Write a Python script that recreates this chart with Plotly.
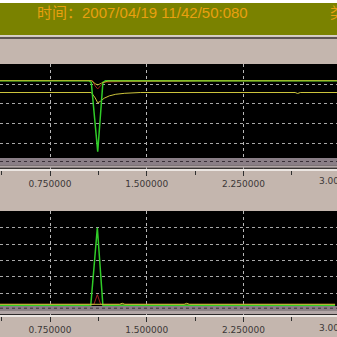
import plotly.graph_objects as go

# ---------------- data ----------------
X_RANGE = [0.3624, 2.9748]
MAJOR_DTICK = 0.75
MINOR_DTICK = 0.375
EXTRA_TICK_LABELS = [3.0]          # label partly visible at the right edge

HEADER_TEXT = "时间：2007/04/19 11/42/50:080"
HEADER_TEXT_RIGHT = "类型：单相接地"

# top panel
TOP_UPPER_X = [0.36, 1.07, 1.10, 1.12, 1.15, 1.20, 2.98]
TOP_UPPER_Y = [4.17, 4.17, 4.02, 3.95, 4.05, 4.15, 4.17]
TOP_RED_X = [0.36, 1.08, 1.10, 1.12, 1.14, 1.17, 1.30, 1.60, 1.80, 1.90, 2.98]
TOP_RED_Y = [4.17, 4.17, 3.90, 3.75, 3.90, 4.10, 4.12, 4.12, 4.14, 4.17, 4.17]
TOP_GREEN_X = [0.36, 1.05, 1.07, 1.12, 1.16, 1.18, 2.98]
TOP_GREEN_Y = [4.17, 4.17, 4.08, 0.57, 4.08, 4.17, 4.17]
TOP_LOWER_X = [0.36, 1.07, 1.10, 1.12, 1.14, 1.17, 1.21, 1.26, 1.33, 1.45, 2.65, 2.67, 2.69, 2.98]
TOP_LOWER_Y = [3.57, 3.57, 3.30, 3.05, 3.12, 3.28, 3.40, 3.48, 3.53, 3.57, 3.57, 3.52, 3.57, 3.57]

# bottom panel
BOT_YELLOW_X = [0.36, 1.29, 1.31, 1.33, 1.79, 1.81, 1.83, 2.96]
BOT_YELLOW_Y = [0.307, 0.307, 0.37, 0.307, 0.307, 0.37, 0.307, 0.307]
BOT_GREEN_X = [0.36, 1.05, 1.065, 1.117, 1.16, 1.18, 2.96]
BOT_GREEN_Y = [0.245, 0.245, 0.15, 5.0, 0.245, 0.245, 0.245]
BOT_RED_X = [0.36, 1.091, 1.117, 1.143, 2.96]
BOT_RED_Y = [0.307, 0.307, 0.90, 0.307, 0.307]

TOP_Y_RANGE = [-0.289, 5.013]
TOP_GRID = [1, 2, 3, 4]
BOT_Y_RANGE = [-0.368, 6.03]
BOT_GRID = [1, 2, 3, 4, 5]

# ---------------- styling ----------------
W = H = 337
BG = "#c4b6ae"
OLIVE = "#7a8200"
GOLD = "#e8a010"
YEL_UP = "#bcb62c"
YEL_LO = "#ccc43c"
GREEN = "#30cc28"
RED = "#a02020"
TICKFONT = dict(family="DejaVu Sans", size=9, color="#3c3838")


def py(px):
    return 1 - px / H


def px_x(px):
    return px / W


fig = go.Figure()

# top panel traces (order matters for overlap)
fig.add_trace(go.Scatter(x=TOP_LOWER_X, y=TOP_LOWER_Y, mode="lines",
                         line=dict(color=YEL_LO, width=1), xaxis="x", yaxis="y"))
fig.add_trace(go.Scatter(x=TOP_RED_X, y=TOP_RED_Y, mode="lines",
                         line=dict(color=RED, width=1), xaxis="x", yaxis="y"))
fig.add_trace(go.Scatter(x=TOP_GREEN_X, y=TOP_GREEN_Y, mode="lines",
                         line=dict(color=GREEN, width=1.5), xaxis="x", yaxis="y"))
fig.add_trace(go.Scatter(x=TOP_UPPER_X, y=TOP_UPPER_Y, mode="lines",
                         line=dict(color=YEL_UP, width=1), xaxis="x", yaxis="y"))

# bottom panel traces
fig.add_trace(go.Scatter(x=BOT_RED_X, y=BOT_RED_Y, mode="lines",
                         line=dict(color=RED, width=1), xaxis="x2", yaxis="y2"))
fig.add_trace(go.Scatter(x=BOT_GREEN_X, y=BOT_GREEN_Y, mode="lines",
                         line=dict(color=GREEN, width=1.5), xaxis="x2", yaxis="y2"))
fig.add_trace(go.Scatter(x=BOT_YELLOW_X, y=BOT_YELLOW_Y, mode="lines",
                         line=dict(color=YEL_LO, width=1), xaxis="x2", yaxis="y2"))

xaxis_common = dict(
    range=X_RANGE, tick0=0, dtick=MAJOR_DTICK, tickformat=".6f",
    ticks="outside", ticklen=5, tickwidth=1, tickcolor="#303030",
    showline=True, linecolor="#ece6e2", linewidth=2,
    showgrid=True, gridcolor="#b8b8b8", griddash="dot", gridwidth=1,
    zeroline=False, tickfont=TICKFONT, fixedrange=True,
    minor=dict(dtick=MINOR_DTICK, tick0=0, ticks="outside", ticklen=4,
               tickcolor="#303030", showgrid=False),
)
yaxis_common = dict(
    showticklabels=False, ticks="", showline=False, zeroline=False,
    showgrid=True, gridcolor="#a8a8a8", griddash="dot", gridwidth=1,
    fixedrange=True,
)

top_dom = [py(168.7), py(64)]
bot_dom = [py(315.3), py(211)]

fig.update_layout(
    width=W, height=H, autosize=False,
    margin=dict(l=0, r=0, t=0, b=0, pad=0),
    paper_bgcolor=BG, plot_bgcolor="#000000",
    showlegend=False,
    xaxis=dict(xaxis_common, anchor="y"),
    yaxis=dict(yaxis_common, domain=top_dom, range=TOP_Y_RANGE, tickvals=TOP_GRID, anchor="x"),
    xaxis2=dict(xaxis_common, anchor="y2"),
    yaxis2=dict(yaxis_common, domain=bot_dom, range=BOT_Y_RANGE, tickvals=BOT_GRID, anchor="x2"),
)

shapes = []
# header
shapes.append(dict(type="rect", xref="paper", yref="paper", x0=0, x1=1, y0=py(3), y1=1,
                   fillcolor="#ffffff", line_width=0, layer="above"))
shapes.append(dict(type="rect", xref="paper", yref="paper", x0=0, x1=1, y0=py(35), y1=py(3),
                   fillcolor=OLIVE, line_width=0, layer="above"))
shapes.append(dict(type="rect", xref="paper", yref="paper", x0=0, x1=1, y0=py(36.7), y1=py(35),
                   fillcolor="#d8d0c8", line_width=0, layer="above"))
shapes.append(dict(type="rect", xref="paper", yref="paper", x0=0, x1=1, y0=py(38.7), y1=py(37.3),
                   fillcolor="#3c3434", line_width=0, layer="above"))

# bands at the bottom of each panel
for (b0, b1, b2, dotline) in [(158, 165.5, 167.7, 161.5), (306, 310.3, 314.3, 308.2)]:
    shapes.append(dict(type="rect", xref="paper", yref="paper", x0=0, x1=1, y0=py(b1), y1=py(b0),
                       fillcolor="#8a7e86", line_width=0, layer="above"))
    shapes.append(dict(type="rect", xref="paper", yref="paper", x0=0, x1=1, y0=py(b2), y1=py(b1),
                       fillcolor="#b2a6a6", line_width=0, layer="above"))
    shapes.append(dict(type="line", xref="paper", yref="paper", x0=0, x1=1, y0=py(dotline), y1=py(dotline),
                       line=dict(color="#3a3038", width=1, dash="dot"), layer="above"))

fig.update_layout(shapes=shapes)

annotations = [
    dict(text=HEADER_TEXT, xref="paper", yref="paper", x=px_x(35), y=py(12.5),
         xanchor="left", yanchor="middle", showarrow=False,
         font=dict(family="Liberation Sans, Noto Sans CJK SC", size=15, color=GOLD)),
    dict(text=HEADER_TEXT_RIGHT, xref="paper", yref="paper", x=px_x(328), y=py(12.5),
         xanchor="left", yanchor="middle", showarrow=False,
         font=dict(family="Liberation Sans, Noto Sans CJK SC", size=15, color=GOLD)),
]
span = X_RANGE[1] - X_RANGE[0]
for v in EXTRA_TICK_LABELS:
    xp = (v - X_RANGE[0]) / span
    for ylab in (181, 328.3):
        annotations.append(dict(text=f"{v:.6f}", xref="paper", yref="paper", x=xp, y=py(ylab),
                                xanchor="center", yanchor="middle", showarrow=False,
                                font=TICKFONT))
fig.update_layout(annotations=annotations)

fig.write_html("out.html")
